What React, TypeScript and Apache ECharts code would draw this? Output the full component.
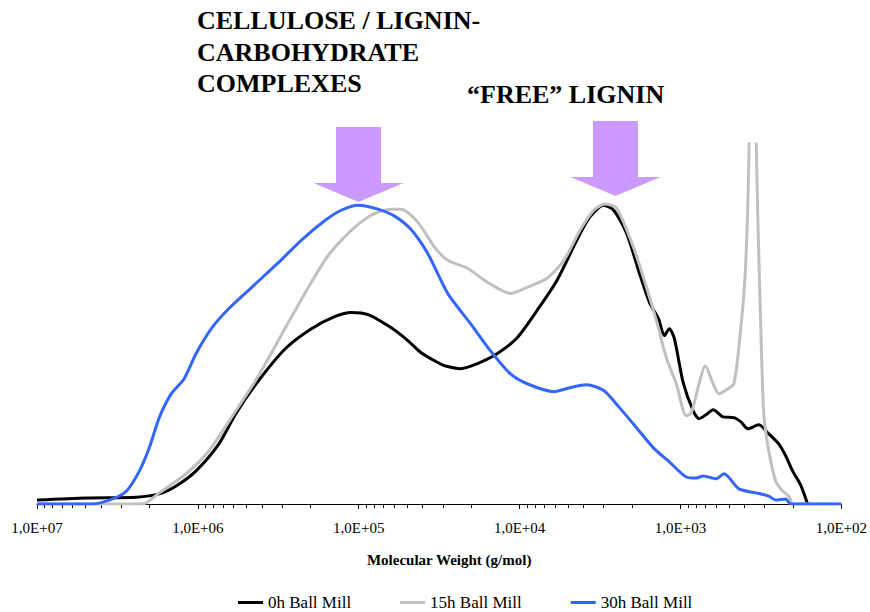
import React, { useEffect, useRef } from "react";
import * as echarts from "echarts";

// log10 of molecular weight (g/mol) and response for each sample
const logMw0h = [7.000, 6.691, 6.382, 6.240, 6.135, 6.011, 5.869, 5.764, 5.622, 5.455, 5.294, 5.146, 5.047, 4.942, 4.800, 4.695, 4.614, 4.509, 4.466, 4.367, 4.262, 4.138, 4.015, 3.891, 3.768, 3.644, 3.564, 3.477, 3.415, 3.335, 3.255, 3.193, 3.137, 3.100, 3.069, 3.038, 2.983, 2.921, 2.884, 2.841, 2.797, 2.735, 2.668, 2.624, 2.581, 2.513, 2.451, 2.389, 2.346, 2.303, 2.253, 2.210];
const resp0h = [1.1, 1.7, 1.9, 2.8, 5.0, 9.2, 16.7, 25.1, 34.3, 43.2, 48.7, 52.1, 53.2, 52.6, 49.0, 45.4, 42.1, 39.3, 38.4, 37.6, 39.0, 41.8, 46.2, 53.8, 62.1, 73.3, 79.7, 83.0, 81.6, 75.2, 64.1, 56.0, 51.5, 46.8, 48.7, 46.0, 33.7, 25.9, 23.7, 24.8, 26.2, 24.2, 24.0, 22.8, 20.9, 22.0, 19.5, 16.7, 13.4, 9.2, 5.3, 0];

const logMw15h = [7.000, 6.345, 6.240, 6.073, 5.931, 5.764, 5.622, 5.455, 5.313, 5.189, 5.066, 4.923, 4.800, 4.738, 4.633, 4.528, 4.447, 4.324, 4.200, 4.058, 3.953, 3.829, 3.724, 3.625, 3.539, 3.471, 3.397, 3.292, 3.211, 3.150, 3.088, 3.026, 2.964, 2.933, 2.884, 2.847, 2.797, 2.760, 2.705, 2.668, 2.637, 2.600, 2.580, 2.553, 2.517, 2.500, 2.482, 2.451, 2.408, 2.365, 2.328, 2.297, 2.000];
const resp15h = [0, 0, 3.1, 8.4, 14.8, 25.9, 35.7, 49.0, 60.2, 69.1, 75.2, 80.2, 81.9, 81.9, 78.3, 71.3, 67.7, 65.5, 61.6, 58.5, 60.2, 62.7, 67.7, 76.0, 81.6, 83.3, 82.2, 71.3, 60.2, 51.0, 40.7, 33.4, 24.5, 25.3, 33.4, 38.4, 33.4, 30.6, 32.0, 33.4, 43.5, 62.1, 85.2, 140, 76.0, 48.2, 25.1, 14.8, 6.4, 3.6, 2.2, 0, 0];

const logMw30h = [7.000, 6.654, 6.530, 6.444, 6.363, 6.302, 6.240, 6.166, 6.085, 6.011, 5.912, 5.807, 5.665, 5.498, 5.356, 5.208, 5.109, 5.004, 4.880, 4.775, 4.676, 4.571, 4.447, 4.305, 4.182, 4.058, 3.953, 3.786, 3.687, 3.582, 3.477, 3.378, 3.273, 3.168, 3.069, 2.964, 2.902, 2.859, 2.779, 2.729, 2.637, 2.532, 2.451, 2.408, 2.346, 2.315, 2.000];
const resp30h = [0, 0, 1.4, 3.6, 9.2, 15.6, 24.0, 30.6, 34.8, 41.8, 49.0, 54.3, 60.2, 67.1, 73.3, 78.8, 81.6, 83.0, 81.9, 79.9, 76.3, 69.6, 58.5, 50.1, 42.6, 36.2, 33.4, 31.2, 32.3, 33.1, 31.5, 26.7, 21.2, 15.6, 11.7, 7.5, 7.2, 7.8, 7.0, 8.4, 4.2, 3.1, 2.2, 1.1, 1.4, 0, 0];

const seriesNames = ["0h Ball Mill", "15h Ball Mill", "30h Ball Mill"];
const seriesColors = ["#000000", "#C0C0C0", "#3366FF"];
const xAxisTitle = "Molecular Weight (g/mol)";
const annotationLeft = "CELLULOSE / LIGNIN-\nCARBOHYDRATE\nCOMPLEXES";
const annotationRight = "\u201CFREE\u201D LIGNIN";

const FONT = "'Liberation Serif', 'Times New Roman', Times, 'DejaVu Serif', serif";

function toPairs(logs: number[], vals: number[]) {
  return logs.map((l, i) => [Math.pow(10, l), vals[i]]);
}

function arrow(cx: number, top: number, headY: number, tipY: number) {
  return {
    type: "polygon",
    shape: {
      points: [
        [cx - 22.5, top],
        [cx + 22.5, top],
        [cx + 22.5, headY],
        [cx + 45, headY],
        [cx, tipY],
        [cx - 45, headY],
        [cx - 22.5, headY],
      ],
    },
    style: { fill: "#CC99FF" },
    z: 1,
  };
}

export default function App() {
  const ref = useRef<HTMLDivElement>(null);
  useEffect(() => {
    if (!ref.current) return;
    const chart = echarts.init(ref.current, undefined, { renderer: "svg" });
    const datasets = [
      toPairs(logMw0h, resp0h),
      toPairs(logMw15h, resp15h),
      toPairs(logMw30h, resp30h),
    ];
    chart.setOption({
      animation: false,
      backgroundColor: "#ffffff",
      textStyle: { fontFamily: FONT },
      grid: { left: 37, right: 24, top: 144, bottom: 108 },
      xAxis: {
        type: "log",
        logBase: 10,
        inverse: true,
        min: 100,
        max: 10000000,
        name: xAxisTitle,
        nameLocation: "middle",
        nameGap: 48,
        nameTextStyle: {
          fontFamily: FONT,
          fontWeight: "bold",
          fontSize: 15,
          color: "#000",
          padding: [0, 0, 0, 20],
        },
        axisLine: { show: true, onZero: false, lineStyle: { color: "#000", width: 1 } },
        axisTick: { show: true, inside: false, length: 5, lineStyle: { color: "#000" } },
        minorTick: { show: true, splitNumber: 9, length: 4, lineStyle: { color: "#000" } },
        splitLine: { show: false },
        minorSplitLine: { show: false },
        axisLabel: {
          fontFamily: FONT,
          fontSize: 15,
          color: "#000",
          margin: 16,
          formatter: (v: number) => "1,0E+0" + Math.round(Math.log10(v)),
        },
      },
      yAxis: {
        type: "value",
        min: 0,
        max: 100,
        show: false,
      },
      legend: {
        left: 238,
        top: 594,
        padding: 0,
        icon: "rect",
        itemWidth: 25,
        itemHeight: 3,
        itemGap: 49,
        textStyle: { fontFamily: FONT, fontSize: 17, lineHeight: 17, color: "#000" },
        data: seriesNames,
      },
      series: datasets.map((d, i) => ({
        name: seriesNames[i],
        type: "line",
        data: d,
        showSymbol: false,
        smooth: 0.25,
        clip: true,
        color: seriesColors[i],
        lineStyle: { color: seriesColors[i], width: 3 },
        z: 2 + i,
      })),
      graphic: [
        arrow(358.5, 127, 183, 202),
        arrow(615.5, 121, 177, 196),
        {
          type: "text",
          x: 197,
          y: 5,
          style: {
            text: annotationLeft,
            fontFamily: FONT,
            fontWeight: "bold",
            fontSize: 26,
            fill: "#000",
            lineHeight: 31.5,
            verticalAlign: "top",
          },
        },
        {
          type: "text",
          x: 467,
          y: 81,
          style: {
            text: annotationRight,
            fontFamily: FONT,
            fontWeight: "bold",
            fontSize: 26,
            fill: "#000",
            verticalAlign: "top",
          },
        },
      ],
    });
    return () => chart.dispose();
  }, []);
  return <div ref={ref} style={{ width: 870, height: 612, position: "absolute", left: 0, top: 0 }} />;
}
